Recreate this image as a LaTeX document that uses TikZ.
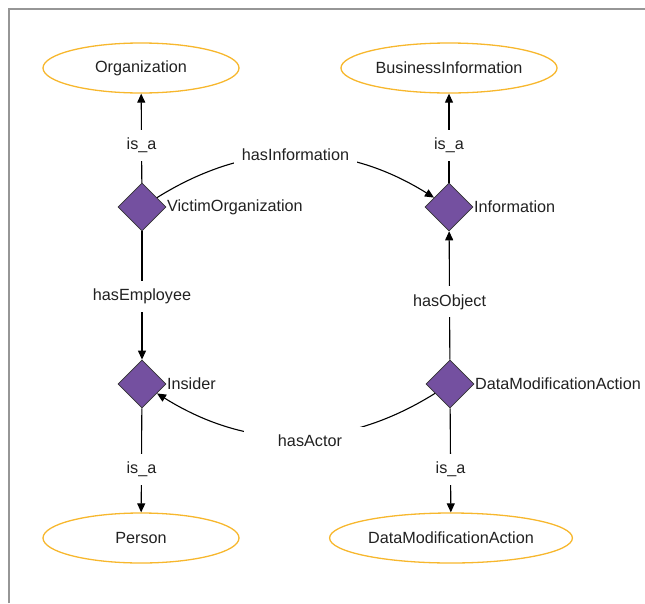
\documentclass[tikz,border=0pt]{standalone}
\usepackage{fontspec}
\setmainfont{Liberation Sans}
\usetikzlibrary{shapes.geometric,arrows.meta}
\definecolor{conceptorange}{RGB}{247,183,45}
\definecolor{rolepurple}{RGB}{116,80,160}
\definecolor{framegray}{RGB}{150,150,150}
\tikzset{
  concept/.style={ellipse, draw=conceptorange, line width=1.3pt, minimum width=196pt, minimum height=50pt, inner xsep=3pt},
  role/.style={diamond, draw=black!80, fill=rolepurple, line width=0.8pt, minimum size=48pt, inner sep=0pt},
  rel/.style={-{Triangle[length=9pt,width=8pt]}, line width=1.1pt},
  lbl/.style={fill=white, inner sep=8pt},
}
\begin{document}
\begin{tikzpicture}[x=1pt, y=-1pt, font=\fontsize{16.2}{19}\selectfont, text=black!87]
  \useasboundingbox (0,0) rectangle (645,603);
  \draw[framegray, line width=2pt] (9,603) -- (9,9) -- (645,9);

  \node[concept] (org) at (141,68) {Organization};
  \node[concept] (businfo) at (449,68) {BusinessInformation};
  \node[concept] (person) at (141,538) {Person};
  \node[concept] (dmaclass) at (451,538) {DataModificationAction};

  \node[role, label={[inner sep=0.5pt]right:VictimOrganization}] (victim) at (142,207) {};
  \node[role, label={[inner sep=0.5pt]right:Information}] (info) at (449,207) {};
  \node[role, label={[inner sep=0.5pt]right:Insider}] (insider) at (142,384) {};
  \node[role, label={[inner sep=0.5pt]right:DataModificationAction}] (dma) at (450,384) {};

  \draw[rel] (victim) -- node[lbl, pos=.42] {is\_a} (org);
  \draw[rel] (info) -- node[lbl, pos=.42] {is\_a} (businfo);
  \draw[rel] (victim) -- node[lbl, pos=.51] {hasEmployee} (insider);
  \draw[rel] (dma) -- node[lbl, pos=.45] {hasObject} (info);
  \draw[rel] (insider) -- node[lbl, pos=.59] {is\_a} (person);
  \draw[rel] (dma) -- node[lbl, pos=.59] {is\_a} (dmaclass);

  \draw[rel] (victim) to[bend left=32] node[lbl] {hasInformation} (info);
  \draw[rel] (dma) to[bend left=32] node[lbl, inner xsep=34pt, pos=.45, yshift=-5pt] {hasActor} (insider);
\end{tikzpicture}
\end{document}
